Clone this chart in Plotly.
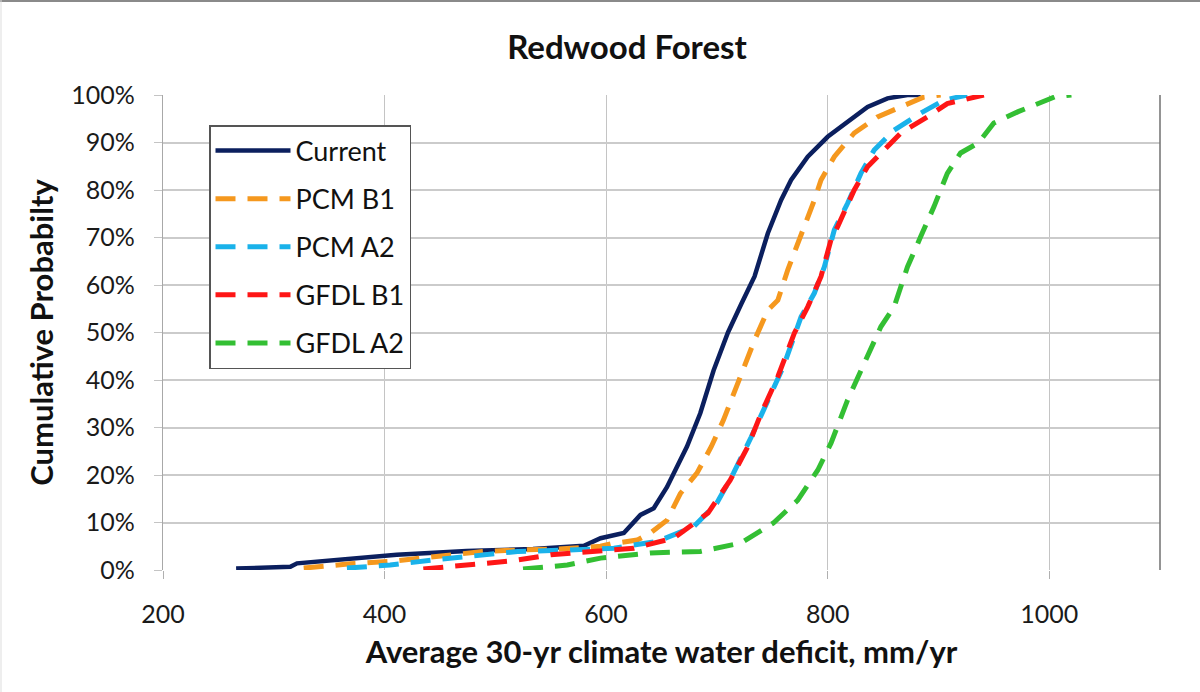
import plotly.graph_objects as go

# ---- data (x: mm/yr, y: cumulative %) ----
current_x = [266, 315, 321, 375, 411, 474, 534, 580, 589, 595, 616, 625, 631, 643, 655, 673, 685, 697, 710, 722, 734, 746, 758, 767, 782, 800, 818, 836, 854, 872, 884]
current_y = [0.3, 0.7, 1.4, 2.5, 3.2, 4.0, 4.4, 5.1, 6.0, 6.7, 7.8, 10.0, 11.6, 13.0, 17.5, 26, 33, 42, 50, 56, 61.8, 70.9, 77.9, 82.1, 87, 91.2, 94.4, 97.5, 99.3, 100, 100]

pcmb1_x = [327, 369, 405, 441, 489, 520, 556, 595, 604, 628, 640, 655, 667, 682, 695, 706, 722, 734, 746, 755, 764, 776, 788, 794, 806, 824, 845, 866, 887, 902]
pcmb1_y = [0.4, 1.3, 1.8, 2.8, 3.9, 4.2, 4.4, 5.0, 5.5, 6.3, 7.8, 10.5, 16.1, 20.4, 26, 31.6, 41.5, 48.4, 54.7, 56.8, 63.2, 70.2, 77.9, 82.1, 87, 92, 95.4, 97.5, 99.6, 100]

pcma2_x = [366, 405, 444, 487, 520, 565, 595, 607, 646, 679, 700, 715, 731, 746, 760, 776, 788, 797, 806, 818, 830, 842, 860, 884, 905, 926]
pcma2_y = [0.4, 1.05, 2.1, 3.2, 3.9, 4.2, 4.4, 4.6, 6.0, 9.1, 14.1, 20.4, 28, 35.8, 42.8, 53.3, 58.3, 63.8, 71.6, 77.2, 83.5, 88.4, 92.6, 96.2, 98.9, 100]

gfdlb1_x = [435, 474, 514, 550, 589, 600, 625, 661, 692, 712, 728, 740, 755, 770, 782, 794, 803, 809, 824, 836, 848, 866, 890, 908, 941]
gfdlb1_y = [0.2, 1.05, 1.9, 3.2, 3.9, 4.0, 4.6, 6.7, 12.0, 18.9, 26, 33, 40.7, 49.9, 55.4, 61.8, 69.5, 72.3, 80, 84.9, 87.8, 92, 95.4, 98.2, 100]

gfdla2_x = [525, 565, 595, 640, 685, 722, 751, 773, 791, 803, 818, 833, 848, 860, 872, 884, 896, 908, 920, 936, 950, 972, 987, 1005, 1020]
gfdla2_y = [0.2, 1.05, 2.5, 3.6, 3.9, 5.7, 9.9, 14.7, 21, 26.7, 35.8, 43.5, 51.2, 55.4, 63.8, 70.2, 76.5, 83.5, 87.8, 89.9, 94.1, 96.5, 97.9, 99.6, 100]

series_names = ["Current", "PCM B1", "PCM A2", "GFDL B1", "GFDL A2"]
series_x = [current_x, pcmb1_x, pcma2_x, gfdlb1_x, gfdla2_x]
series_y = [current_y, pcmb1_y, pcma2_y, gfdlb1_y, gfdla2_y]
series_colors = ["#0b1f5e", "#f5981e", "#1ab2ea", "#fe1616", "#33bf33"]
series_dash = ["solid", "20px,12px", "20px,12px", "20px,12px", "20px,12px"]

x_ticks = [200, 400, 600, 800, 1000]
y_ticks = [0, 10, 20, 30, 40, 50, 60, 70, 80, 90, 100]

FONT = "Lato"

fig = go.Figure()
for i, (name, xs, ys, c, d) in enumerate(zip(series_names, series_x, series_y, series_colors, series_dash)):
    fig.add_trace(go.Scatter(
        x=xs, y=ys, mode="lines", name=name,
        line=dict(color=c, width=4.5 if i == 0 else 5, dash=d),
        legendgroup=f"g{i}",
    ))

fig.update_layout(
    width=1200, height=692,
    paper_bgcolor="white", plot_bgcolor="white",
    margin=dict(l=163, r=40, t=95, b=122),
    font=dict(family=FONT, color="#1a1a1a", size=24),
    title=dict(text="<b>Redwood Forest</b>", x=627/1200, xanchor="center",
               xref="container", y=1 - 47/692, yanchor="middle", yref="container",
               font=dict(size=33, family=FONT, color="#111111")),
    showlegend=True,
    legend=dict(
        x=(209 - 163) / 997, y=1 - (125 - 95) / 475, xanchor="left", yanchor="top",
        bordercolor="#555555", borderwidth=1.5, bgcolor="white",
        font=dict(size=27, family=FONT, color="#111111"),
        tracegroupgap=10, itemwidth=75,
    ),
)

fig.update_xaxes(
    range=[200, 1100], tickvals=x_ticks, ticktext=[str(v) for v in x_ticks],
    showgrid=True, gridcolor="#c4c4c4", gridwidth=1.3,
    zeroline=False, showline=False,
    ticks="outside", ticklen=8, tickcolor="#b0b0b0", tickwidth=1.3,
    tickfont=dict(size=25, family=FONT, color="#1a1a1a"),
    ticklabelstandoff=14,
    title=dict(text="<b>Average 30-yr climate water deficit, mm/yr</b>",
               font=dict(size=31, family=FONT, color="#111111"), standoff=14),
)
fig.update_yaxes(
    range=[0, 100], tickvals=y_ticks, ticktext=[f"{v}%" for v in y_ticks],
    showgrid=True, gridcolor="#cbcbcb", gridwidth=1.6,
    zeroline=False, showline=True, linecolor="#a8a8a8", linewidth=1.3,
    ticks="outside", ticklen=8, tickcolor="#c4c4c4", tickwidth=1.3,
    tickfont=dict(size=25, family=FONT, color="#1a1a1a"),
    ticklabelstandoff=14,
    title=dict(text="<b>Cumulative Probabilty</b>",
               font=dict(size=31, family=FONT, color="#111111"), standoff=8),
)

# right border of plot area
fig.add_shape(type="line", xref="x domain", yref="y domain", x0=1, x1=1, y0=0, y1=1,
              line=dict(color="#707070", width=1.5))
# outer chart frame (top and left edges)
fig.add_shape(type="line", xref="paper", yref="paper",
              x0=-163/997, x1=(1200-163)/997, y0=1 + 94/475, y1=1 + 94/475,
              line=dict(color="#8a8a8a", width=2))
fig.add_shape(type="line", xref="paper", yref="paper",
              x0=-162/997, x1=-162/997, y0=-122/475, y1=1 + 95/475,
              line=dict(color="#dddddd", width=1))

fig.write_html("out.html", config={"displayModeBar": False},
               post_script="document.body.style.margin='0px';")
